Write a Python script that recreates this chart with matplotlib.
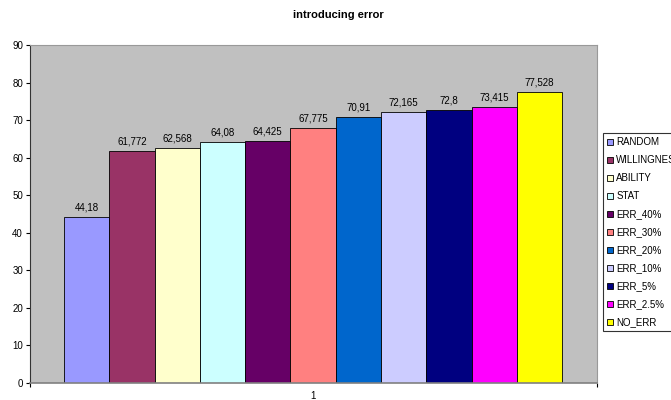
import matplotlib.pyplot as plt
import numpy as np

series = ['RANDOM', 'WILLINGNESS', 'ABILITY', 'STAT', 'ERR_40%', 'ERR_30%',
          'ERR_20%', 'ERR_10%', 'ERR_5%', 'ERR_2.5%', 'NO_ERR']
values = [44.18, 61.772, 62.568, 64.08, 64.425, 67.775,
          70.91, 72.165, 72.8, 73.415, 77.528]
labels = ['44,18', '61,772', '62,568', '64,08', '64,425', '67,775',
          '70,91', '72,165', '72,8', '73,415', '77,528']
colors = ['#9999FF', '#993366', '#FFFFCC', '#CCFFFF', '#660066', '#FF8080',
          '#0066CC', '#CCCCFF', '#000080', '#FF00FF', '#FFFF00']

plt.rcParams['font.family'] = ['Liberation Sans', 'DejaVu Sans']

fig = plt.figure(figsize=(6.71, 4.0), dpi=100)
ax = fig.add_axes([30 / 671, 1 - 383 / 400, 567 / 671, 338 / 400])
ax.set_facecolor('#C0C0C0')

x = np.arange(len(values))
for i in range(len(values)):
    ax.bar(x[i], values[i], width=1.0, color=colors[i], edgecolor='black',
           linewidth=0.6, label=series[i])
    ax.text(x[i], values[i] + 1.2, labels[i], ha='center', va='bottom', fontsize=7)

ax.set_xlim(-1.25, 11.27)
ax.set_ylim(0, 90)
ax.set_yticks(np.arange(0, 91, 10))
ax.tick_params(axis='y', labelsize=7, length=3, width=0.8, pad=2)

ax.set_xticks([5])
ax.set_xticklabels(['1'])
ax.set_xticks([-1.25, 11.27], minor=True)
ax.tick_params(axis='x', which='major', length=0, labelsize=7, pad=6)
ax.tick_params(axis='x', which='minor', length=3, width=0.8)

for side in ['top', 'right']:
    ax.spines[side].set_color('#999999')
ax.spines['left'].set_color('#333333')
ax.spines['bottom'].set_color('#808080')
ax.spines['bottom'].set_linewidth(1.2)

fig.suptitle('introducing error', x=0.505, y=0.975, fontsize=8, fontweight='bold')

# legend sits at the right edge, the widest entry runs past the figure border
leg = fig.legend(loc='upper left', bbox_to_anchor=(603 / 671, 1 - 133 / 400),
                 fontsize=7, frameon=True, fancybox=False, edgecolor='black',
                 handlelength=0.6, handleheight=0.6, handletextpad=0.3,
                 labelspacing=0.82, borderpad=0.45, borderaxespad=0)
leg.get_frame().set_linewidth(0.8)

plt.savefig('out.png', dpi=100)
